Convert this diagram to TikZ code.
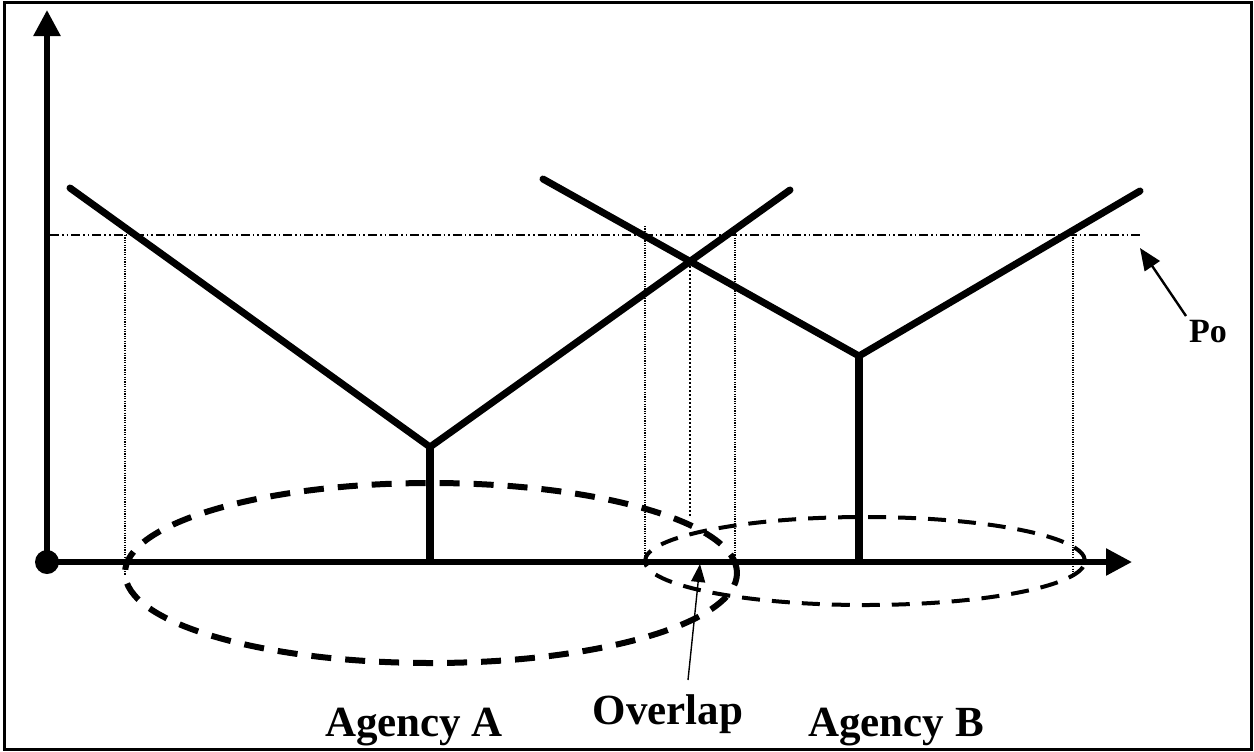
\documentclass[tikz,border=0pt]{standalone}
\usepackage{fontspec}
\setmainfont{Liberation Serif}
\usetikzlibrary{arrows.meta}
\begin{document}
\begin{tikzpicture}[x=0.5pt,y=-0.5pt,
  axis/.style={line width=2.8pt, -{Triangle[length=13pt,width=13pt]}},
  curve/.style={line width=3.5pt, line cap=round},
  stem/.style={line width=4pt},
  guide/.style={line width=0.8pt, dash pattern=on 0.6pt off 0.6pt},
  guideheavy/.style={line width=1.3pt, dash pattern=on 1pt off 1pt},
  price/.style={line width=1.3pt, dash pattern=on 4.5pt off 1.5pt on 0.8pt off 1.5pt on 0.8pt off 1.5pt},
  regionA/.style={line width=3pt, dash pattern=on 10pt off 7pt},
  regionB/.style={line width=2pt, dash pattern=on 9pt off 6pt},
  label/.style={font=\bfseries\fontsize{21.5}{26}\selectfont, inner sep=0pt, anchor=base},
  pointer/.style={line width=0.7pt, -{Triangle[length=9pt,width=7pt]}},
  bigpointer/.style={line width=1.2pt, -{Triangle[length=11pt,width=9pt]}}
]
\useasboundingbox (0,0) rectangle (1254,751);
% outer frame
\draw[line width=1.5pt] (4,2) rectangle (1251,749);

% key points
\coordinate (O) at (47,562);
\coordinate (ytip) at (47,10);
\coordinate (xtip) at (1132,562);
\coordinate (aL) at (70,188);
\coordinate (aV) at (430,447);
\coordinate (aR) at (790,190);
\coordinate (aB) at (430,562);
\coordinate (bL) at (543,179);
\coordinate (bV) at (859,356);
\coordinate (bR) at (1140,191);
\coordinate (bB) at (859,562);
\coordinate (pS) at (50,235);
\coordinate (pE) at (1142,235);

% price level Po
\draw[price] (pS) -- (pE);

% guide lines down to the axis
\coordinate (g1t) at (125,235);  \coordinate (g1b) at (125,575);
\coordinate (g2t) at (645,226);  \coordinate (g2b) at (645,562);
\coordinate (g3t) at (690,262);  \coordinate (g3b) at (690,518);
\coordinate (g4t) at (735,228);  \coordinate (g4b) at (735,562);
\coordinate (g5t) at (1073,235); \coordinate (g5b) at (1073,575);
\draw[guide] (g1t) -- (g1b);
\draw[guide] (g2t) -- (g2b);
\draw[guideheavy] (g3t) -- (g3b);
\draw[guide] (g4t) -- (g4b);
\draw[guide] (g5t) -- (g5b);

% market areas
\draw[regionA] (431,573) ellipse [x radius=153pt, y radius=45pt];
\draw[regionB] (865,561) ellipse [x radius=110pt, y radius=22pt];

% delivered price curves
\draw[curve] (aL) -- (aV) -- (aR);
\draw[curve] (bL) -- (bV) -- (bR);
\draw[stem] (aV) -- (aB);
\draw[stem] (bV) -- (bB);

% axes
\draw[axis] (O) -- (ytip);
\draw[axis] (O) -- (xtip);
\fill (O) circle [radius=6pt];

% labels
\node[label] (la) at (414,736) {Agency A};
\node[label] (lo) at (668,724) {Overlap};
\node[label] (lb) at (896,736) {Agency B};
\node[label, font=\bfseries\fontsize{17}{20}\selectfont] (po) at (1208,342) {Po};

\coordinate (oTail) at (688,680);
\coordinate (oTip) at (700,564);
\draw[pointer] (oTail) -- (oTip);
\coordinate (pTail) at (1186,316);
\coordinate (pTip) at (1140,248);
\draw[bigpointer] (pTail) -- (pTip);
\end{tikzpicture}
\end{document}
